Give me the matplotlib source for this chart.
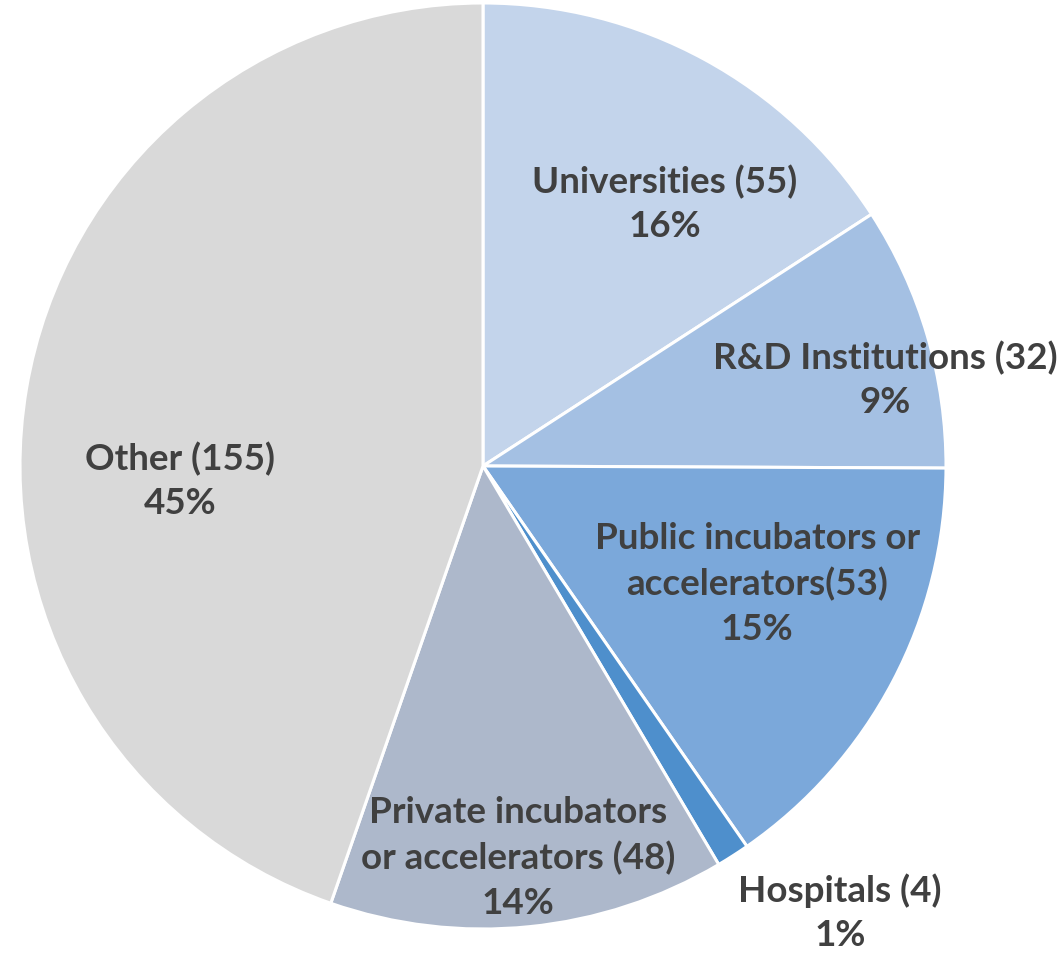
import matplotlib
matplotlib.use("Agg")
import matplotlib.pyplot as plt

# sources of support, counts per category
categories = ["Universities (55)", "R&D Institutions (32)",
              "Public incubators or\naccelerators(53)", "Hospitals (4)",
              "Private incubators\nor accelerators (48)", "Other (155)"]
counts = [55, 32, 53, 4, 48, 155]
colors = ["#C3D4EB", "#A4C0E3", "#7BA8DA", "#4E8FCC", "#ADB8CB", "#D9D9D9"]

# label block centres, in units of the pie radius
label_xy = [(0.393, 0.568), (0.868, 0.188), (0.592, -0.253),
            (0.771, -0.963), (0.076, -0.845), (-0.654, -0.030)]

W, H = 1064, 954
fig = plt.figure(figsize=(W / 100, H / 100), dpi=100)
cx, cy, r = 483, 467, 463
ax = fig.add_axes([(cx - r) / W, (H - cy - r) / H, 2 * r / W, 2 * r / H])

ax.pie(counts, colors=colors, startangle=90, counterclock=False, radius=1,
       wedgeprops=dict(edgecolor="white", linewidth=2.2))

total = sum(counts)
for name, n, (x, y) in zip(categories, counts, label_xy):
    ax.text(x, y, f"{name}\n{n / total:.0%}", ha="center", va="center",
            fontsize=26.5, fontweight="bold", family="Lato", color="#404040",
            linespacing=1.42)

ax.set_xlim(-1, 1)
ax.set_ylim(-1, 1)
ax.set_aspect("auto")
ax.axis("off")
fig.savefig("out.png", dpi=100)
